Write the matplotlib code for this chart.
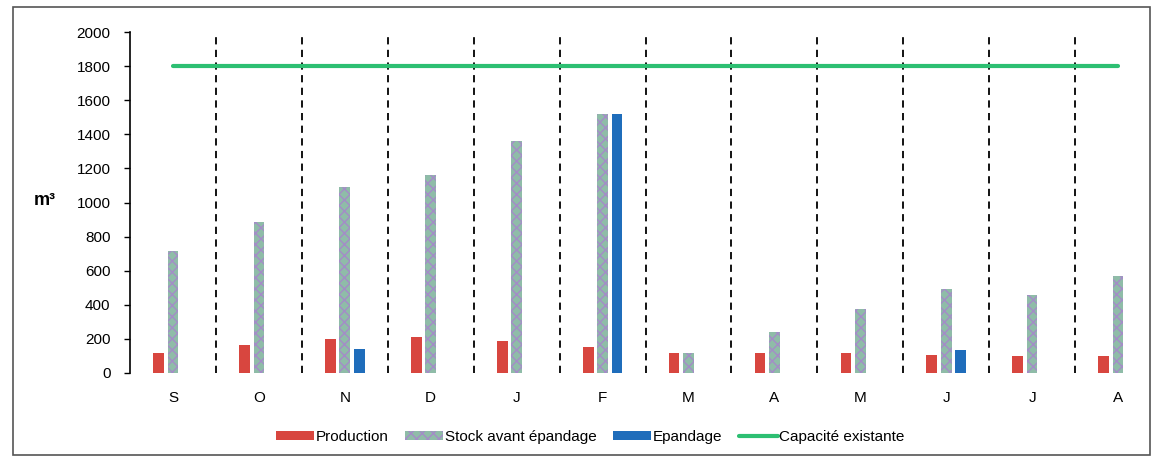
import numpy as np
import matplotlib.pyplot as plt
from matplotlib.patches import Rectangle

plt.rcParams['font.family'] = ['Liberation Sans', 'DejaVu Sans']
plt.rcParams['hatch.linewidth'] = 1.0

months = ["S", "O", "N", "D", "J", "F", "M", "A", "M", "J", "J", "A"]
production = [120, 165, 200, 210, 190, 150, 120, 115, 120, 105, 100, 100]
stock = [715, 885, 1090, 1160, 1360, 1520, 115, 240, 375, 490, 455, 570]
epandage = [0, 0, 140, 0, 0, 1520, 0, 0, 0, 135, 0, 0]
capacite = [1800] * 12

x = np.arange(len(months))
w = 0.125
step = 0.167

fig = plt.figure(figsize=(11.59, 4.59), dpi=100)
ax = fig.add_axes([130 / 1159, 86 / 459, 1031 / 1159, 341 / 459])

b1 = ax.bar(x - step, production, w, color="#d8463f", label="Production", zorder=3)
b2 = ax.bar(x, stock, w, color="#8fbca8", edgecolor="#a48cc8", hatch="xxx",
            linewidth=0, label="Stock avant épandage", zorder=3)
b3 = ax.bar(x + step, epandage, w, color="#1f6dbb", label="Epandage", zorder=3)
l1, = ax.plot(x, capacite, color="#2dbf72", lw=3, solid_capstyle="round",
              label="Capacité existante", zorder=4)

# month separators
for b in x[:-1] + 0.5:
    ax.plot([b, b], [0, 2000], color="black", lw=1.3, ls=(0, (4, 3)), zorder=2)

ax.set_xlim(-0.5, 11.5)
ax.set_ylim(0, 2000)
ax.set_yticks(np.arange(0, 2001, 200))
ax.set_xticks(x)
ax.set_xticklabels(months)
ax.tick_params(axis="x", length=0, pad=13, labelsize=11)
ax.tick_params(axis="y", direction="out", length=4, width=1, labelsize=11, pad=10)
for s in ["top", "right", "bottom"]:
    ax.spines[s].set_visible(False)
ax.spines["left"].set_linewidth(1.2)

fig.text(45 / 1159, 1 - 200 / 459, "m³", fontsize=13, fontweight="bold",
         ha="center", va="center")

fig.legend([b1, b2, b3, l1],
           ["Production", "Stock avant épandage", "Epandage", "Capacité existante"],
           loc="center", bbox_to_anchor=(590 / 1159, 1 - 437 / 459), ncol=4,
           frameon=False, fontsize=11, handlelength=2.5, handleheight=0.6,
           handletextpad=0.1, columnspacing=1.1)

# outer frame
fig.patches.append(Rectangle((13 / 1159, 4 / 459), 1137 / 1159, 448 / 459,
                             transform=fig.transFigure, fill=False,
                             edgecolor="#555555", lw=1.2))

fig.savefig("out.png", dpi=100)
